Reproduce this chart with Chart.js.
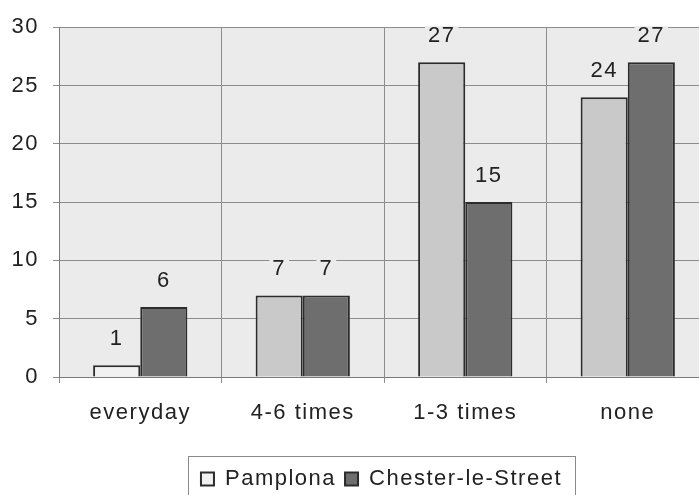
<!DOCTYPE html>
<html>
<head>
<meta charset="utf-8">
<script src="https://cdn.jsdelivr.net/npm/chart.js@4"></script>
<style>
  html, body { margin: 0; padding: 0; background: #fff; overflow: hidden; }
</style>
</head>
<body>
<canvas id="chart" width="712" height="500"></canvas>
<script>
const categories = ['everyday', '4-6 times', '1-3 times', 'none'];
const pamplona = [1, 7, 27, 24];
const chester = [6, 7, 15, 27];
const yTicks = [0, 5, 10, 15, 20, 25, 30];

const plotColor = '#ebebeb';
const fontFamily = '"Liberation Sans", Arial, sans-serif';

Chart.defaults.font.family = fontFamily;
Chart.defaults.font.size = 22;
Chart.defaults.color = '#222';

// spaced-out lettering like the scanned original
const spacing = {
  id: 'spacing',
  beforeUpdate(chart) { chart.ctx.letterSpacing = '1.5px'; },
  beforeDraw(chart) { chart.ctx.letterSpacing = '1.5px'; }
};

// grey plot area
const plotBg = {
  id: 'plotBg',
  beforeDraw(chart) {
    const { ctx, chartArea: a } = chart;
    ctx.save();
    ctx.fillStyle = plotColor;
    ctx.fillRect(a.left, a.top, a.right - a.left, a.bottom - a.top);
    ctx.restore();
  }
};

// legend sits a bit right of centre, inside a thin frame
const legendFrame = {
  id: 'legendFrame',
  afterLayout(chart) {
    chart.legend.left += 27;
    chart.legend.right += 27;
  },
  afterDraw(chart) {
    const boxes = chart.legend.legendHitBoxes;
    const ctx = chart.ctx;
    const l = Math.min(...boxes.map(b => b.left)) - 13;
    const r = Math.max(...boxes.map(b => b.left + b.width)) + 13;
    const t = boxes[0].top - 12;
    ctx.save();
    ctx.strokeStyle = '#8a8a8a';
    ctx.lineWidth = 1;
    ctx.strokeRect(Math.round(l) + 0.5, Math.round(t) + 0.5, Math.round(r - l), 80);
    ctx.restore();
  }
};

// value labels above each bar
const valueLabels = {
  id: 'valueLabels',
  afterDatasetsDraw(chart) {
    const ctx = chart.ctx;
    ctx.save();
    ctx.font = '22px ' + fontFamily;
    ctx.textAlign = 'center';
    ctx.textBaseline = 'middle';
    chart.data.datasets.forEach((ds, i) => {
      chart.getDatasetMeta(i).data.forEach((bar, j) => {
        const txt = String(ds.data[j]);
        const y = bar.y - 26;
        const w = ctx.measureText(txt).width;
        ctx.fillStyle = plotColor;
        ctx.fillRect(bar.x - w / 2 - 3, y - 10, w + 6, 20);
        ctx.fillStyle = '#222';
        ctx.fillText(txt, bar.x, y);
      });
    });
    ctx.restore();
  }
};

const ctx = document.getElementById('chart').getContext('2d');
const myChart = new Chart(ctx, {
  type: 'bar',
  data: {
    labels: categories,
    datasets: [{
      label: 'Pamplona',
      data: pamplona,
      backgroundColor: (c) => c.dataIndex === 0 ? '#f1f1f1' : '#c9c9c9',
      borderColor: '#2c2c2c',
      borderWidth: 2,
      categoryPercentage: 0.58,
      barPercentage: 1
    }, {
      label: 'Chester-le-Street',
      data: chester,
      backgroundColor: '#6e6e6e',
      borderColor: '#2c2c2c',
      borderWidth: 2,
      categoryPercentage: 0.58,
      barPercentage: 1
    }]
  },
  options: {
    responsive: false,
    animation: false,
    events: [],
    layout: { padding: { top: 27, right: 3, left: 0, bottom: 0 } },
    scales: {
      x: {
        grid: { color: '#8c8c8c', tickLength: 6, offset: true },
        border: { color: '#7a7a7a' },
        ticks: { padding: 17, color: '#222' },
        afterFit: (axis) => { axis.height = 82; }
      },
      y: {
        min: 0,
        max: 30,
        grid: { color: '#8c8c8c', tickLength: 6 },
        border: { color: '#7a7a7a' },
        ticks: { padding: 14, color: '#222' },
        afterBuildTicks: (axis) => { axis.ticks = yTicks.map(v => ({ value: v })); },
        afterFit: (axis) => { axis.width = 59; }
      }
    },
    plugins: {
      tooltip: { enabled: false },
      legend: {
        position: 'bottom',
        labels: {
          boxWidth: 13,
          boxHeight: 13,
          padding: 9,
          color: '#222',
          font: { size: 22 }
        }
      }
    }
  },
  plugins: [spacing, plotBg, legendFrame, valueLabels]
});
</script>
</body>
</html>
